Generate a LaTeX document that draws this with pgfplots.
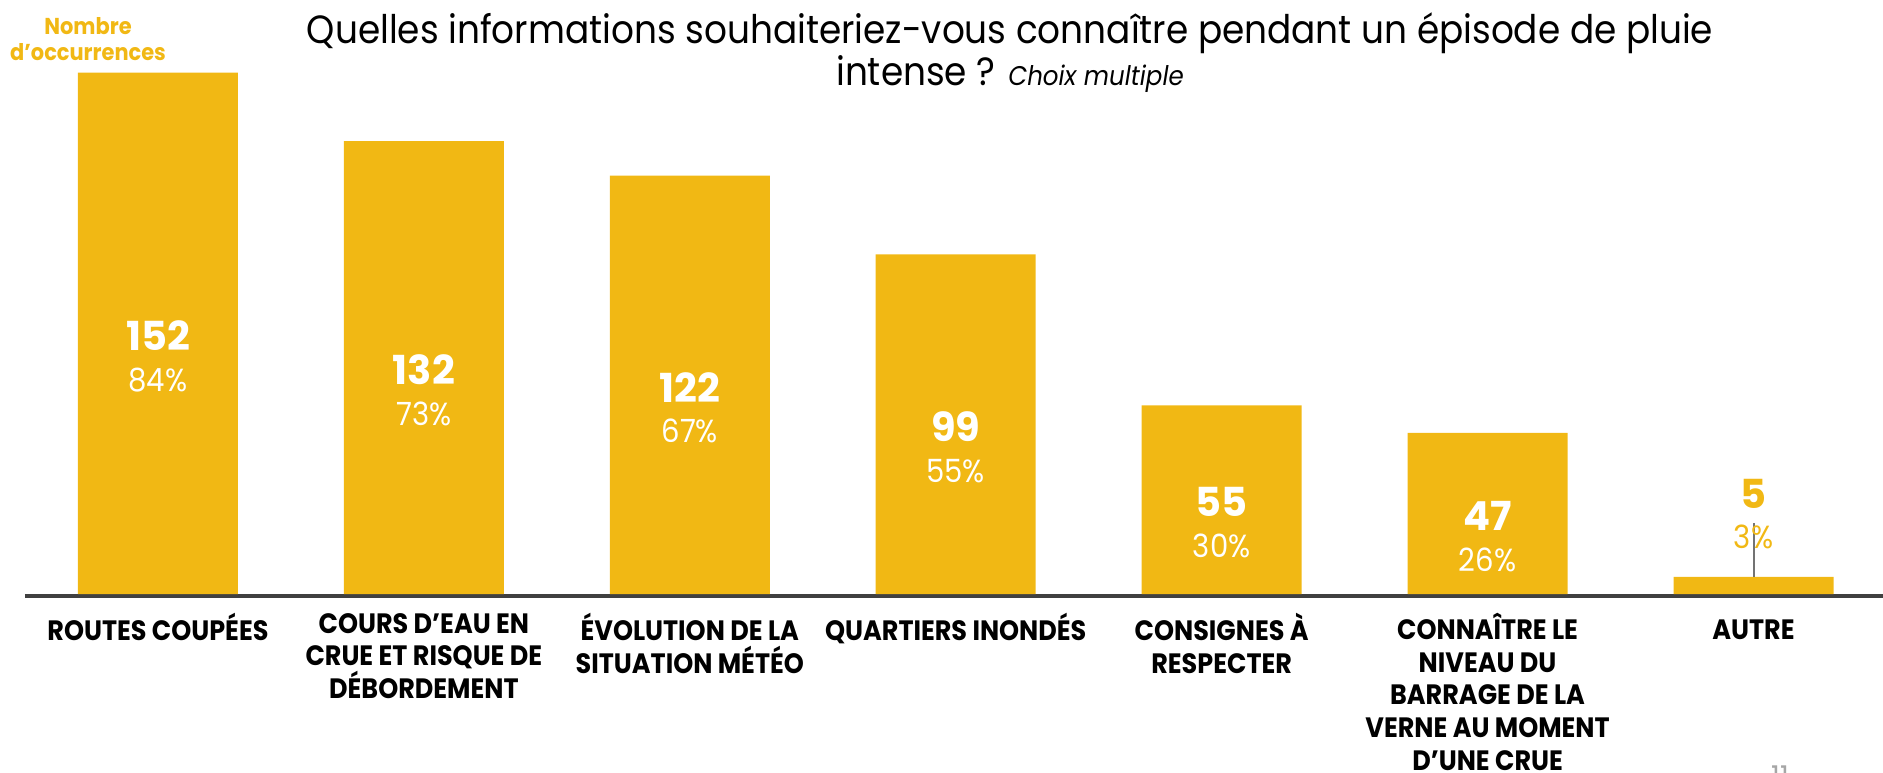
\documentclass[border=0pt]{standalone}
\usepackage{pgfplots}
\pgfplotsset{compat=1.18}
\usepackage{pgfplotstable}
\usepackage{fontspec}
\setmainfont{Poppins}[FakeStretch=0.91]
\newfontfamily\numfont{Poppins}
\definecolor{baryellow}{HTML}{F1B814}
\definecolor{axisgray}{HTML}{404040}

% nombre d'occurrences et part des répondants
\pgfplotstableread{
x v p
0 152 84
1 132 73
2 122 67
3 99 55
4 55 30
5 47 26
6 5 3
}\answers

\begin{document}
\begin{tikzpicture}
\path[use as bounding box] (0,0) rectangle (941.5pt,-386pt);

\node[align=center, font=\fontsize{19.7}{21}\selectfont] at (505pt,-26.2pt)
  {Quelles informations souhaiteriez-vous connaître pendant un épisode de pluie\\
   intense ? {\itshape\fontsize{13.5}{15}\selectfont Choix multiple}};

\node[align=center, text=baryellow, font=\fontsize{11.5}{13}\selectfont\bfseries] at (44pt,-19.5pt)
  {Nombre\\d’occurrences};

\begin{axis}[
    at={(12.5pt,-297.85pt)}, anchor=south west,
    scale only axis, width=929pt, height=275.25pt,
    xmin=-0.5, xmax=6.487, ymin=-0.5, ymax=160,
    axis x line*=bottom, axis y line=none,
    x axis line style={draw=axisgray, line width=2pt, -},
    major tick length=0pt,
    xtick={0,...,6},
    xticklabels={
      ROUTES COUPÉES,
      {COURS D’EAU EN\\CRUE ET RISQUE DE\\DÉBORDEMENT},
      {ÉVOLUTION DE LA\\SITUATION MÉTÉO},
      QUARTIERS INONDÉS,
      {CONSIGNES À\\RESPECTER},
      {CONNAÎTRE LE\\NIVEAU DU\\BARRAGE DE LA\\VERNE AU MOMENT\\D’UNE CRUE},
      AUTRE},
    xticklabel style={align=center, anchor=north, inner sep=0pt, yshift=-8.65pt,
      font=\fontsize{14}{16.3}\selectfont\bfseries,
      execute at begin node={\rule{0pt}{13pt}}},
    clip=false,
  ]
\addplot[ybar, bar width=80pt, fill=baryellow, draw=none] table[x=x, y=v] {\answers};

% étiquettes dans les barres
\addplot[draw=none, mark=none, skip coords between index={6}{7},
    point meta=explicit symbolic,
    nodes near coords={\pgfplotspointmeta},
    every node near coord/.style={anchor=center, text=white, yshift=-1.25pt,
      font=\numfont\fontsize{20}{22}\selectfont\bfseries}]
  table[x=x, y expr=\thisrow{v}/2, meta=v] {\answers};
\addplot[draw=none, mark=none, skip coords between index={6}{7},
    point meta=explicit symbolic,
    nodes near coords={\pgfplotspointmeta\%},
    every node near coord/.style={anchor=center, text=white, yshift=-23.25pt,
      font=\fontsize{16}{18}\selectfont}]
  table[x=x, y expr=\thisrow{v}/2, meta=p] {\answers};

% « autre » : étiquettes au-dessus de la barre
\addplot[draw=none, mark=none, skip coords between index={0}{6},
    point meta=explicit symbolic,
    nodes near coords={\pgfplotspointmeta},
    every node near coord/.style={anchor=center, text=baryellow, yshift=41.5pt,
      font=\numfont\fontsize{20}{22}\selectfont\bfseries}]
  table[x=x, y=v, meta=v] {\answers};
\addplot[draw=none, mark=none, skip coords between index={0}{6},
    point meta=explicit symbolic,
    nodes near coords={\pgfplotspointmeta\%},
    every node near coord/.style={anchor=center, text=baryellow, yshift=20pt,
      font=\fontsize{16}{18}\selectfont}]
  table[x=x, y=v, meta=p] {\answers};
\draw[color=gray!90!black, line width=1pt] (axis cs:6,5) -- ([yshift=27pt]axis cs:6,5);
\end{axis}

\begin{scope}
\clip (0,0) rectangle (941.5pt,-386pt);
\node[anchor=north, inner sep=0pt, text=gray!70, font=\fontsize{15}{17}\selectfont] at (890pt,-382.5pt) {11};
\end{scope}
\end{tikzpicture}
\end{document}
